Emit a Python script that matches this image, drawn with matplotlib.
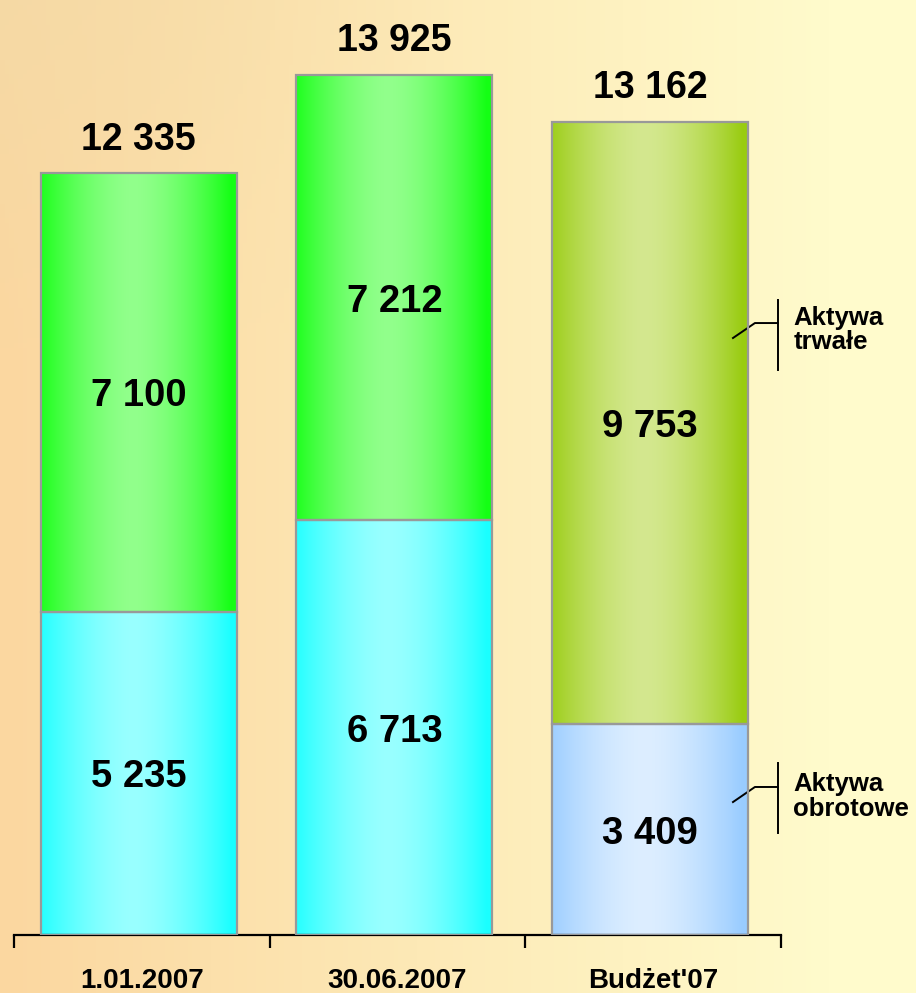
import numpy as np
import matplotlib
matplotlib.use("Agg")
import matplotlib.pyplot as plt
from matplotlib.colors import to_rgb

categories = ["1.01.2007", "30.06.2007", "Budżet'07"]
obrotowe = [5235, 6713, 3409]
trwale = [7100, 7212, 9753]
totals = [12335, 13925, 13162]

bottom_sat = ["#1affff", "#1affff", "#99ccff"]
bottom_light = ["#99ffff", "#99ffff", "#ddeeff"]
top_sat = ["#14ff14", "#14ff14", "#99cc11"]
top_light = ["#92ff8c", "#92ff8c", "#d4e88f"]

plt.rcParams['font.family'] = ['Liberation Sans', 'DejaVu Sans']
plt.rcParams['font.weight'] = 'bold'

def fmt(v):
    return f"{v:,}".replace(",", " ")

W, H = 916, 993
fig = plt.figure(figsize=(W / 100, H / 100), dpi=100)

# background gradient
bg = fig.add_axes([0, 0, 1, 1], zorder=-10)
bg.axis('off')
nx, ny = 200, 200
xx, yy = np.meshgrid(np.linspace(0, 1, nx), np.linspace(0, 1, ny))
c_left = np.array(to_rgb("#fbd7a0"))
c_right = np.array(to_rgb("#fffbcc"))
c_tl = np.array(to_rgb("#f2dba8"))
t = np.clip(xx * 1.1, 0, 1)[..., None]
img = c_left * (1 - t) + c_right * t
vt = (np.clip(0.35 - yy, 0, 1) / 0.35 * np.clip(1 - xx * 2, 0, 1))[..., None]
img = img * (1 - vt * 0.6) + c_tl * vt * 0.6
bg.imshow(img, extent=[0, 1, 0, 1], aspect='auto', origin='upper')
bg.set_xlim(0, 1); bg.set_ylim(0, 1)

ax = fig.add_axes([14 / W, 58 / H, 767 / W, 935 / H])
ax.patch.set_alpha(0)
ymax = 15139
ax.set_xlim(-0.5, 2.5)
ax.set_ylim(0, ymax)

x = np.arange(len(categories)) - 0.012
bw = 0.767

def grad_fill(rects, sat, light):
    for r, cs, cl in zip(rects, sat, light):
        s = np.array(to_rgb(cs)); l = np.array(to_rgb(cl))
        tt = np.linspace(0, 1, 256)
        f = 1 - np.clip(np.abs((tt - 0.47) / 0.5), 0, 1) ** 1.6
        row = s[None, :] * (1 - f[:, None]) + l[None, :] * f[:, None]
        im = ax.imshow(row[None, :, :], extent=[r.get_x(), r.get_x() + r.get_width(),
                                                r.get_y(), r.get_y() + r.get_height()],
                       aspect='auto', zorder=2)
        im.set_clip_path(r)

b1 = ax.bar(x, obrotowe, bw, facecolor='none', edgecolor='#999999', linewidth=1.6, zorder=3)
grad_fill(b1, bottom_sat, bottom_light)
b2 = ax.bar(x, trwale, bw, bottom=obrotowe, facecolor='none', edgecolor='#999999', linewidth=1.6, zorder=3)
grad_fill(b2, top_sat, top_light)
ax.set_xlim(-0.5, 2.5)
ax.set_ylim(0, ymax)

for xi, o, tr, tot in zip(x, obrotowe, trwale, totals):
    ax.text(xi, o / 2, fmt(o), ha='center', va='center_baseline', fontsize=27.5, fontweight='bold', zorder=5)
    ax.text(xi, o + tr / 2, fmt(tr), ha='center', va='center_baseline', fontsize=27.5, fontweight='bold', zorder=5)
    ax.annotate(fmt(tot), (xi, o + tr), xytext=(0, 17), textcoords='offset points',
                ha='center', va='baseline', fontsize=27, fontweight='bold', zorder=5)

for s in ['top', 'left', 'right']:
    ax.spines[s].set_visible(False)
ax.spines['bottom'].set_linewidth(1.6)
ax.set_yticks([])
ax.set_xticks(np.arange(len(categories)))
ax.set_xticklabels(categories, fontsize=20, fontweight='bold')
ax.tick_params(axis='x', which='major', length=0, pad=24)
ax.set_xticks([-0.5, 0.5, 1.5, 2.5], minor=True)
ax.tick_params(axis='x', which='minor', length=9, width=1.6, direction='out')

# callouts
def callout(y_top, y_bot, y_h, y_d, label, y_text):
    kw = dict(transform=ax.transAxes, color='black', linewidth=1.4, clip_on=False)
    ax.plot([0.996, 0.996], [y_top, y_bot], **kw)
    ax.plot([0.9374, 0.966, 0.996], [y_d, y_h, y_h], **kw)
    ax.text(1.016, y_text, label, transform=ax.transAxes, ha='left', va='center',
            fontsize=18.5, fontweight='bold', linespacing=1.02)

callout(0.679, 0.604, 0.6545, 0.6385, "Aktywa\ntrwałe", 0.647)
callout(0.184, 0.109, 0.1583, 0.1422, "Aktywa\nobrotowe", 0.148)

fig.savefig("out.png", dpi=100)
